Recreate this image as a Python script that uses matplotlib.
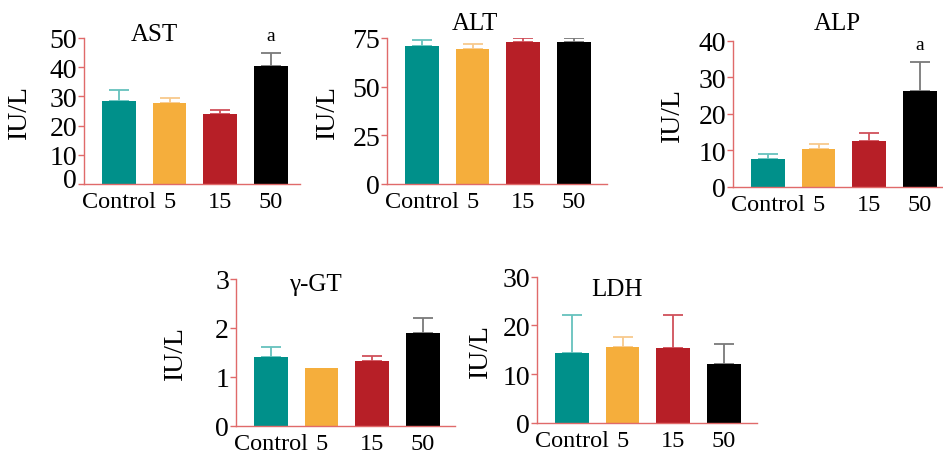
import matplotlib
matplotlib.use('Agg')
import matplotlib.pyplot as plt
from matplotlib.transforms import ScaledTranslation

plt.rcParams['font.family'] = ['Liberation Serif', 'DejaVu Serif']

# Data
groups = ['Control', '5', '15', '50']
panels = ['AST', 'ALT', 'ALP', 'γ-GT', 'LDH']
ast_mean = [28.4, 27.6, 24.1, 40.5]
ast_err = [3.9, 1.7, 1.2, 4.4]
alt_mean = [71.0, 69.5, 72.9, 73.1]
alt_err = [2.8, 2.4, 1.9, 1.7]
alp_mean = [7.7, 10.2, 12.6, 26.1]
alp_err = [1.3, 1.6, 2.2, 8.0]
ggt_mean = [1.40, 1.19, 1.32, 1.90]
ggt_err = [0.20, 0.0, 0.11, 0.30]
ldh_mean = [14.3, 15.6, 15.4, 12.0]
ldh_err = [7.8, 2.0, 6.7, 4.1]
ymax = [50, 75, 40, 3, 30]
yticks = [[0, 10, 20, 30, 40, 50], [0, 25, 50, 75], [0, 10, 20, 30, 40],
          [0, 1, 2, 3], [0, 10, 20, 30]]
signif = [['', '', '', 'a'], None, ['', '', '', 'a'], None, None]

means = [ast_mean, alt_mean, alp_mean, ggt_mean, ldh_mean]
errs = [ast_err, alt_err, alp_err, ggt_err, ldh_err]

bar_colors = ['#00908a', '#f5ae3c', '#b71f27', '#000000']
err_colors = ['#66c2bd', '#f8c98c', '#d0505a', '#7a7a7a']
spine_color = '#e06a6a'

W, H = 943, 456
# axes boxes in pixels: left, top, right, bottom
boxes = [(84, 39, 300, 185), (387, 39, 607, 185), (733, 41.7, 943, 187.7),
         (236, 280, 455, 426.7), (537, 277.7, 757, 424)]
# title centre in pixels
title_pos = [(154, 35), (475, 24), (837, 24), (315, 285), (617, 290)]
ylabel_off = [52, 47, 48, 48, 44]
unit = 50.6  # pixels per category step

fig = plt.figure(figsize=(W / 100, H / 100), dpi=100)

for i, name in enumerate(panels):
    l, t, r, b = boxes[i]
    ax = fig.add_axes([l / W, 1 - b / H, (r - l) / W, (b - t) / H])
    x = range(len(groups))
    ax.bar(x, means[i], width=0.67, color=bar_colors, zorder=2)
    for j in x:
        if errs[i][j] > 0:
            ax.errorbar(j, means[i][j], yerr=[[0], [errs[i][j]]],
                        color=err_colors[j], capsize=7, elinewidth=1.3,
                        capthick=1.3, zorder=1)
    ax.set_ylim(0, ymax[i])
    ax.set_xlim(-0.69, (r - l) / unit - 0.69)
    ax.set_yticks(yticks[i])
    ax.set_xticks(list(x))
    ax.set_xticklabels(groups)
    for s in ['top', 'right']:
        ax.spines[s].set_visible(False)
    for s in ['left', 'bottom']:
        ax.spines[s].set_color(spine_color)
        ax.spines[s].set_linewidth(1.0)
    ax.tick_params(axis='y', colors=spine_color, labelcolor='black',
                   length=4, width=1, labelsize=20, pad=1)
    ax.tick_params(axis='x', length=0, labelsize=17.5, pad=5)
    ax.set_ylabel('IU/L', fontsize=20)
    ax.yaxis.set_label_coords(-ylabel_off[i] / (r - l), 0.5)
    if i == 0:
        lab0 = ax.get_yticklabels()[0]
        lab0.set_transform(lab0.get_transform() +
                           ScaledTranslation(0, 0.06, fig.dpi_scale_trans))
    tx, ty = title_pos[i]
    ax.text((tx - l) / (r - l), (b - ty) / (b - t), name, fontsize=18,
            ha='center', va='center', transform=ax.transAxes)
    if signif[i]:
        for j, s in enumerate(signif[i]):
            if s:
                ax.text(j, means[i][j] + errs[i][j] + ymax[i] * 0.06, s,
                        ha='center', va='bottom', fontsize=14)

fig.savefig('out.png', dpi=100)
